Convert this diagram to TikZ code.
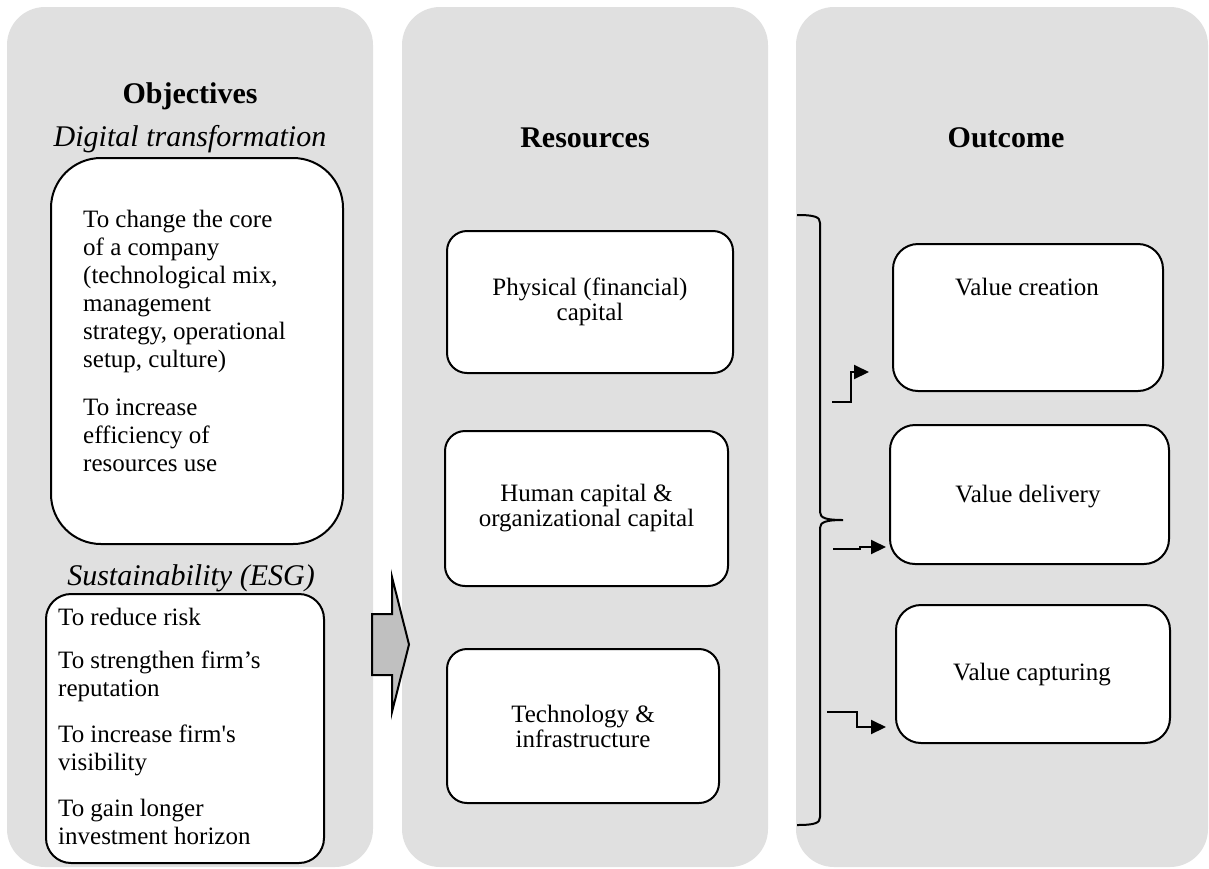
\documentclass[tikz,border=0pt]{standalone}
\usepackage{fontspec}
\setmainfont{Liberation Serif}[Ligatures=TeXOff]
\usetikzlibrary{arrows.meta}
\definecolor{panelgrey}{HTML}{E0E0E0}
\definecolor{arrowgrey}{HTML}{C0C0C0}
\newcommand{\bodyfont}{\fontsize{25}{28}\selectfont}
\newcommand{\resfont}{\fontsize{25}{25}\selectfont}
\newcommand{\headfont}{\fontsize{30}{34}\selectfont}
\begin{document}
\begin{tikzpicture}[x=1pt,y=-1pt,line join=miter,
  panel/.style={fill=panelgrey, rounded corners=38pt},
  head/.style={anchor=base, inner sep=0pt, font=\headfont\bfseries},
  sub/.style={anchor=base, inner sep=0pt, font=\headfont\itshape},
  box/.style={draw, line width=2pt, fill=white, rectangle, anchor=north west, inner sep=0pt},
  boxtext/.style={anchor=north west, inner sep=0pt, align=left, font=\bodyfont},
  restext/.style={align=center, font=\resfont},
  outtext/.style={anchor=base, inner sep=0pt, font=\bodyfont},
  conn/.style={line width=2pt, -{Triangle[length=15pt,width=14pt]}},
  bigarrow/.style={line width=2pt, fill=arrowgrey},
  bracket/.style={line width=2pt}]
\useasboundingbox (0,0) rectangle (1209,868);

% panels
\fill[panel] (7,7) rectangle (373,867);
\fill[panel] (402,7) rectangle (768,867);
\fill[panel] (796,7) rectangle (1208,867);

% headers
\node[head] (hobj) at (190,103) {Objectives};
\node[sub] (hdt) at (190,146) {Digital transformation};
\node[head] (hres) at (585,147) {Resources};
\node[head] (hout) at (1006,147) {Outcome};
\node[sub] (hesg) at (191,585) {Sustainability (ESG)};

% objective boxes
\node[box, rounded corners=50pt, minimum width=292pt, minimum height=386pt] (dt) at (50,157) {};
\node[boxtext] (dttext) at (83,210) {To change the core\\of a company\\(technological mix,\\management\\strategy, operational\\setup, culture)\\[20pt]To increase\\efficiency of\\resources use};

\node[box, rounded corners=25pt, minimum width=278pt, minimum height=269pt] (esg) at (45,593) {};
\node[boxtext] (esgtext) at (58,608) {To reduce risk\\[15pt]To strengthen firm’s\\reputation\\[18pt]To increase firm's\\visibility\\[18pt]To gain longer\\investment horizon};

% block arrow
\draw[bigarrow] (372,614) -- (392,614) -- (392,577) -- (409,644.5) -- (392,712) -- (392,675) -- (372,675) -- cycle;

% resources boxes
\node[box, rounded corners=20pt, minimum width=286pt, minimum height=142pt] (r1) at (446,230) {};
\node[restext] (r1text) at (r1.center) {Physical (financial)\\capital};
\node[box, rounded corners=20pt, minimum width=283pt, minimum height=155pt] (r2) at (444,430) {};
\node[restext] (r2text) at (r2.center) {Human capital \&\\organizational capital};
\node[box, rounded corners=20pt, minimum width=272pt, minimum height=154pt] (r3) at (446,648) {};
\node[restext] (r3text) at (r3.center) {Technology \&\\infrastructure};

% outcome boxes
\node[box, rounded corners=25pt, minimum width=270pt, minimum height=147pt] (o1) at (892,243) {};
\node[outtext] (o1text) at (1027,295) {Value creation};
\node[box, rounded corners=25pt, minimum width=279pt, minimum height=139pt] (o2) at (889,424) {};
\node[outtext] (o2text) at (1028,502) {Value delivery};
\node[box, rounded corners=25pt, minimum width=274pt, minimum height=138pt] (o3) at (895,604) {};
\node[outtext] (o3text) at (1032,680) {Value capturing};

% bracket
\coordinate (brtop) at (797,215);
\coordinate (brtip) at (843,520);
\coordinate (brbot) at (797,825);
\draw[bracket] (brtop) .. controls (815,215) and (820,217) .. (820,223) -- (820,512)
  .. controls (820,518) and (826,520) .. (brtip)
  .. controls (826,520) and (820,522) .. (820,528) -- (820,817)
  .. controls (820,823) and (815,825) .. (brbot);

% elbow connectors
\coordinate (s1) at (832,402);
\coordinate (e1) at (869,372);
\coordinate (s2) at (833,549);
\coordinate (e2) at (886,547);
\coordinate (s3) at (827,712);
\coordinate (e3) at (886,727);
\draw[conn] (s1) -- (851,402) -- (851,372) -- (e1);
\draw[conn] (s2) -- (860,549) -- (860,547) -- (e2);
\draw[conn] (s3) -- (857,712) -- (857,727) -- (e3);
\end{tikzpicture}
\end{document}
